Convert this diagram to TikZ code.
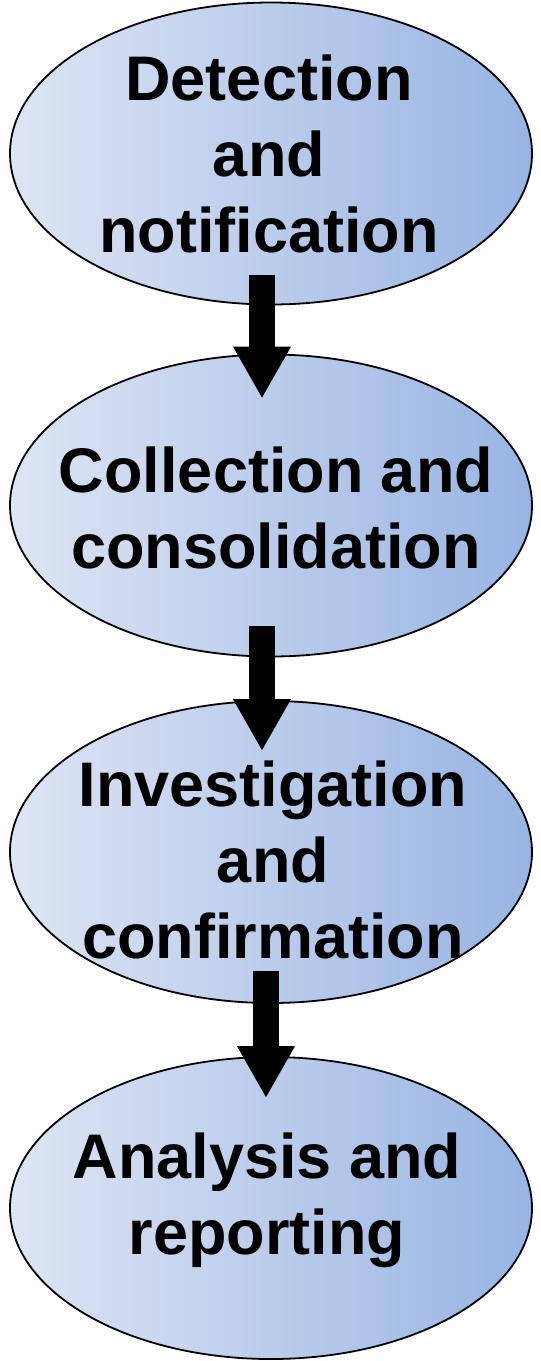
\documentclass[tikz,border=0pt]{standalone}
\usepackage{fontspec}
\setmainfont{Liberation Sans}
\usetikzlibrary{calc,arrows.meta,shapes.geometric}
\definecolor{shadeL}{RGB}{222,229,244}
\definecolor{shadeR}{RGB}{152,180,227}
\begin{document}
\begin{tikzpicture}[x=1pt,y=1pt,
  stage/.style={ellipse, draw=black, line width=1.8pt, inner sep=0pt,
    minimum width=522pt, minimum height=302pt,
    left color=shadeL, right color=shadeR, shading angle=90},
  stagetext/.style={align=center, text=black, inner sep=0pt,
    font=\bfseries\fontsize{63}{76}\selectfont},
  flow/.style={line width=26pt, draw=black, -{Triangle[width=54pt,length=52pt]}}]
\useasboundingbox (0,0) rectangle (541,-1361);
\node[stage] (e1) at (271,-153.5) {};
\node[stage] (e2) at (271,-505.5) {};
\node[stage] (e3) at (271,-852) {};
\node[stage] (e4) at (271,-1208) {};
\node[stagetext] (t1) at ($(e1)+(-2,0)$) {Detection\\and\\notification};
\node[stagetext] (t2) at ($(e2)+(5,-2)$) {Collection and\\consolidation};
\node[stagetext] (t3) at ($(e3)+(2,-8)$) {Investigation\\and\\confirmation};
\node[stagetext] (t4) at ($(e4)+(-4,8)$) {Analysis and\\reporting};
\draw[flow] ($(e1.south)+(-9,30)$) -- ($(e2.north)+(-9,-45)$);
\draw[flow] ($(e2.south)+(-9,31)$) -- ($(e3.north)+(-9,-51)$);
\draw[flow] ($(e3.south)+(-5,33)$) -- ($(e4.north)+(-5,-42)$);
\end{tikzpicture}
\end{document}
